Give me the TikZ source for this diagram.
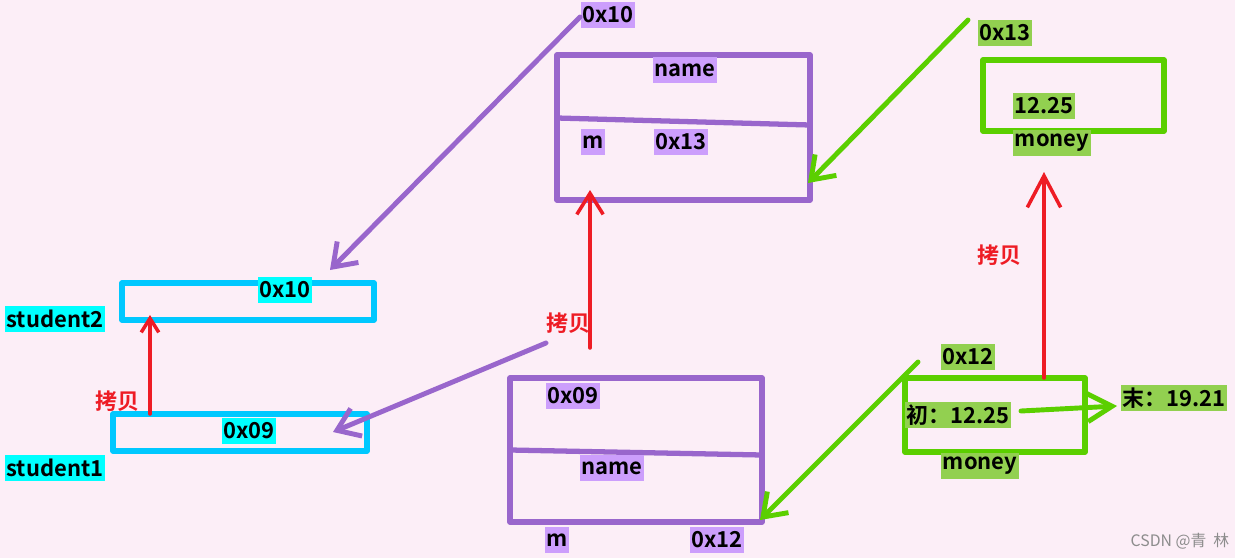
\documentclass[tikz,border=0pt]{standalone}
\usepackage{fontspec}
\setmainfont{Noto Sans CJK SC}[BoldFont={Noto Sans CJK SC Bold}]
\usetikzlibrary{arrows.meta,calc}
\definecolor{bgpink}{HTML}{FCEEF7}
\definecolor{boxblue}{HTML}{00C8FF}
\definecolor{labcyan}{HTML}{00FFFF}
\definecolor{objpurple}{HTML}{9966CC}
\definecolor{labpurple}{HTML}{CC9EFC}
\definecolor{objgreen}{HTML}{5BCF00}
\definecolor{labgreen}{HTML}{92D050}
\definecolor{copyred}{HTML}{EE1C25}
\tikzset{
  lbl/.style={inner xsep=1pt, inner ysep=0pt, minimum height=0.52cm, text=black,
    font=\bfseries\fontsize{12.5}{15}\selectfont},
  cyanlbl/.style={lbl, fill=labcyan},
  purplbl/.style={lbl, fill=labpurple},
  greenlbl/.style={lbl, fill=labgreen},
  copylbl/.style={inner sep=0pt, text=copyred, font=\bfseries\fontsize{12.5}{14}\selectfont},
  boxline/.style={line width=3pt, line join=round, line cap=round, outer sep=0pt},
  bluebox/.style={boxline, draw=boxblue},
  purpbox/.style={boxline, draw=objpurple},
  greenbox/.style={boxline, draw=objgreen},
  purparrow/.style={line width=2.8pt, line cap=round, draw=objpurple, -{Straight Barb[length=12pt,width=17pt]}},
  greenarrow/.style={line width=2.8pt, line cap=round, draw=objgreen, -{Straight Barb[length=12pt,width=17pt]}},
  copyarrow/.style={line width=2pt, line cap=round, draw=copyred, -{Straight Barb[length=12pt,width=15pt]}}
}

\begin{document}
\begin{tikzpicture}[x=0.02cm, y=-0.02cm]
	%%%%% BACKGROUND %%%%%
	\useasboundingbox (0,0) rectangle (1235,558);
	\fill[bgpink] (0,0) rectangle (1235,558);

	%%%%% STUDENT POINTERS %%%%%
	\node[bluebox, minimum width=5.04cm, minimum height=0.74cm] (s2box) at (248,301.5) {};
	\node[bluebox, minimum width=5.08cm, minimum height=0.74cm] (s1box) at (240,432.5) {};
	\node[cyanlbl] (stu2) at (55,319) {student2};
	\node[cyanlbl] (stu1) at (55,468) {student1};
	\node[cyanlbl] (s2val) at (285,290) {0x10};
	\node[cyanlbl] (s1val) at (249,431) {0x09};
	\node[copylbl] (copya) at (117,401) {拷贝};

	%%%%% OBJECTS %%%%%
	\node[purpbox, minimum width=5.06cm, minimum height=2.9cm] (objtop) at (683.5,127.5) {};
	\draw[purpbox] ([yshift=-1.26cm]objtop.north west) -- ([yshift=-1.4cm]objtop.north east);
	\node[purpbox, minimum width=5.04cm, minimum height=2.88cm] (objbot) at (636,450) {};
	\draw[purpbox] ([yshift=-1.44cm]objbot.north west) -- ([yshift=-1.54cm]objbot.north east);

	\node[purplbl] (topaddr) at (608,15) {0x10};
	\node[purplbl] (topname) at (685,70) {name};
	\node[purplbl] (topm) at (593,142) {m};
	\node[purplbl] (topmval) at (681,142) {0x13};
	\node[copylbl] (copyb) at (568,323) {拷贝};

	\node[purplbl] (botaddr) at (573,396) {0x09};
	\node[purplbl] (botname) at (612,468) {name};
	\node[purplbl] (botm) at (557,540) {m};
	\node[purplbl] (botmval) at (717,540) {0x12};

	%%%%% MONEY %%%%%
	\node[greenbox, minimum width=3.62cm, minimum height=1.42cm] (moneytop) at (1073.5,95.5) {};
	\node[greenbox, minimum width=3.6cm, minimum height=1.48cm] (moneybot) at (995,415) {};

	\node[greenlbl] (mtaddr) at (1005,33) {0x13};
	\node[greenlbl] (mtval) at (1044,106) {12.25};
	\node[greenlbl] (mtname) at (1052,143) {money};
	\node[copylbl] (copyc) at (999,255) {拷贝};
	\node[greenlbl] (mbaddr) at (968,357) {0x12};
	\node[greenlbl] (mbold) at (958,415) {初：12.25};
	\node[greenlbl] (mbname) at (980,466) {money};
	\node[greenlbl] (mbnew) at (1174,398) {末：19.21};

	\node[text=black!45, inner sep=0pt, font=\fontsize{9}{10}\selectfont] (mark) at (1180,541) {CSDN @青\ \ 林};

	%%%%% ARROWS %%%%%
	\coordinate (pa1) at (580,17);   \coordinate (pa2) at (330,270);
	\coordinate (pb1) at (546,343);  \coordinate (pb2) at (333,432);
	\coordinate (ga1) at (968,20);   \coordinate (ga2) at (808,183);
	\coordinate (gb1) at (918,362);  \coordinate (gb2) at (760,520);
	\coordinate (gc1) at (1021,411); \coordinate (gc2) at (1117,406);
	\coordinate (ra1) at (150,414);  \coordinate (ra2) at (150,315);
	\coordinate (rb1) at (590,348);  \coordinate (rb2) at (590,190);
	\coordinate (rc1) at (1044,378); \coordinate (rc2) at (1044,172);

	\draw[purparrow] (pa1) -- (pa2);
	\draw[purparrow] (pb1) -- (pb2);
	\draw[greenarrow] (ga1) -- (ga2);
	\draw[greenarrow] (gb1) -- (gb2);
	\draw[greenarrow, -{Straight Barb[length=14pt,width=16pt]}] (gc1) -- (gc2);
	\draw[copyarrow, -{Straight Barb[length=8pt,width=10pt]}] (ra1) -- (ra2);
	\draw[copyarrow] (rb1) -- (rb2);
	\draw[copyarrow, -{Straight Barb[length=18pt,width=19pt]}] (rc1) -- (rc2);
\end{tikzpicture}
\end{document}
